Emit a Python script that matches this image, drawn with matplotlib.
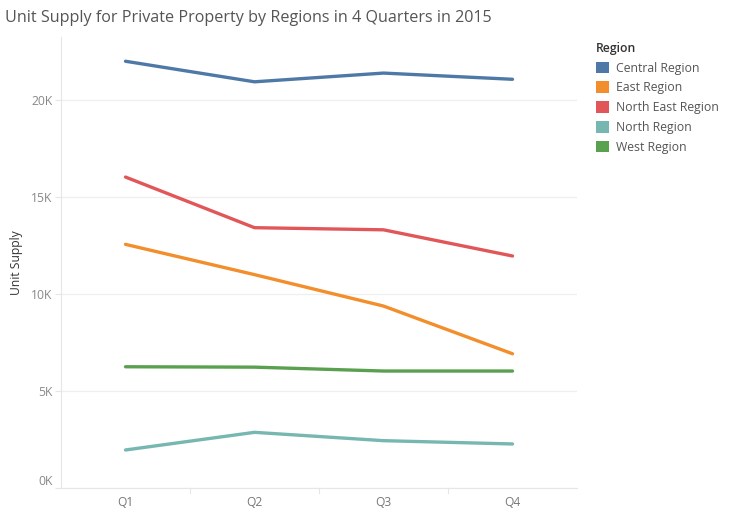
import matplotlib
matplotlib.use("Agg")
import matplotlib.pyplot as plt
from matplotlib.patches import Patch

quarters = ["Q1", "Q2", "Q3", "Q4"]
regions = ["Central Region", "East Region", "North East Region", "North Region", "West Region"]
central = [22000, 20940, 21390, 21070]
east = [12560, 11000, 9380, 6920]
north_east = [16030, 13420, 13310, 11960]
north = [1960, 2870, 2440, 2270]
west = [6250, 6230, 6030, 6030]
colors = ["#4e79a7", "#f28e2b", "#e15759", "#76b7b2", "#59a14f"]

plt.rcParams["font.family"] = ["Open Sans", "DejaVu Sans"]

fig = plt.figure(figsize=(7.34, 5.09), dpi=100)
ax = fig.add_axes([61 / 734, 1 - 488 / 509, (577 - 61) / 734, (488 - 37) / 509])

x = list(range(len(quarters)))
series = [central, east, north_east, north, west]
for vals, c in zip(series, colors):
    ax.plot(x, vals, color=c, linewidth=2.4, solid_capstyle="round", zorder=3)

ax.set_xlim(-0.5, 3.5)
ax.set_ylim(0, 23250)
ax.set_yticks([0, 5000, 10000, 15000, 20000])
ax.set_yticklabels(["0K", "5K", "10K", "15K", "20K"])
ax.set_xticks(x)
ax.set_xticklabels(quarters)
ax.tick_params(axis="y", length=4, color="#e6e6e6", labelsize=8.7, labelcolor="#888888", pad=2)
ax.tick_params(axis="x", length=0, labelsize=8.7, labelcolor="#777777", pad=6)
ax.grid(axis="y", color="#efefef", linewidth=0.9, zorder=0)
# Tableau keeps the bottom label inside the axis
ax.get_yticklabels()[0].set_va("bottom")

# band separators under the x axis
for b in [0.5, 1.5, 2.5]:
    ax.plot([b, b], [0, -250], color="#e6e6e6", linewidth=0.8, clip_on=False)

for side in ["top", "right"]:
    ax.spines[side].set_visible(False)
ax.spines["left"].set_color("#e6e6e6")
ax.spines["bottom"].set_color("#e6e6e6")

ax.set_ylabel("Unit Supply", fontsize=8.7, color="#333333", labelpad=6)

fig.text(5 / 734, 1 - 18 / 509, "Unit Supply for Private Property by Regions in 4 Quarters in 2015",
         fontsize=11.6, color="#555555", va="center", ha="left")

handles = [Patch(facecolor=c, edgecolor="none") for c in colors]
leg = fig.legend(handles, regions, title="Region", loc="upper left",
                 bbox_to_anchor=(596 / 734, 1 - 42 / 509), frameon=False,
                 fontsize=8.8, title_fontsize=8.8, handlelength=1.1, handleheight=1.1,
                 handletextpad=0.5, labelspacing=0.55, borderaxespad=0, borderpad=0)
leg.get_title().set_fontweight("semibold")
leg.get_title().set_color("#333333")
leg._legend_box.align = "left"
for t in leg.get_texts():
    t.set_color("#555555")

fig.savefig("out.png", dpi=100)
